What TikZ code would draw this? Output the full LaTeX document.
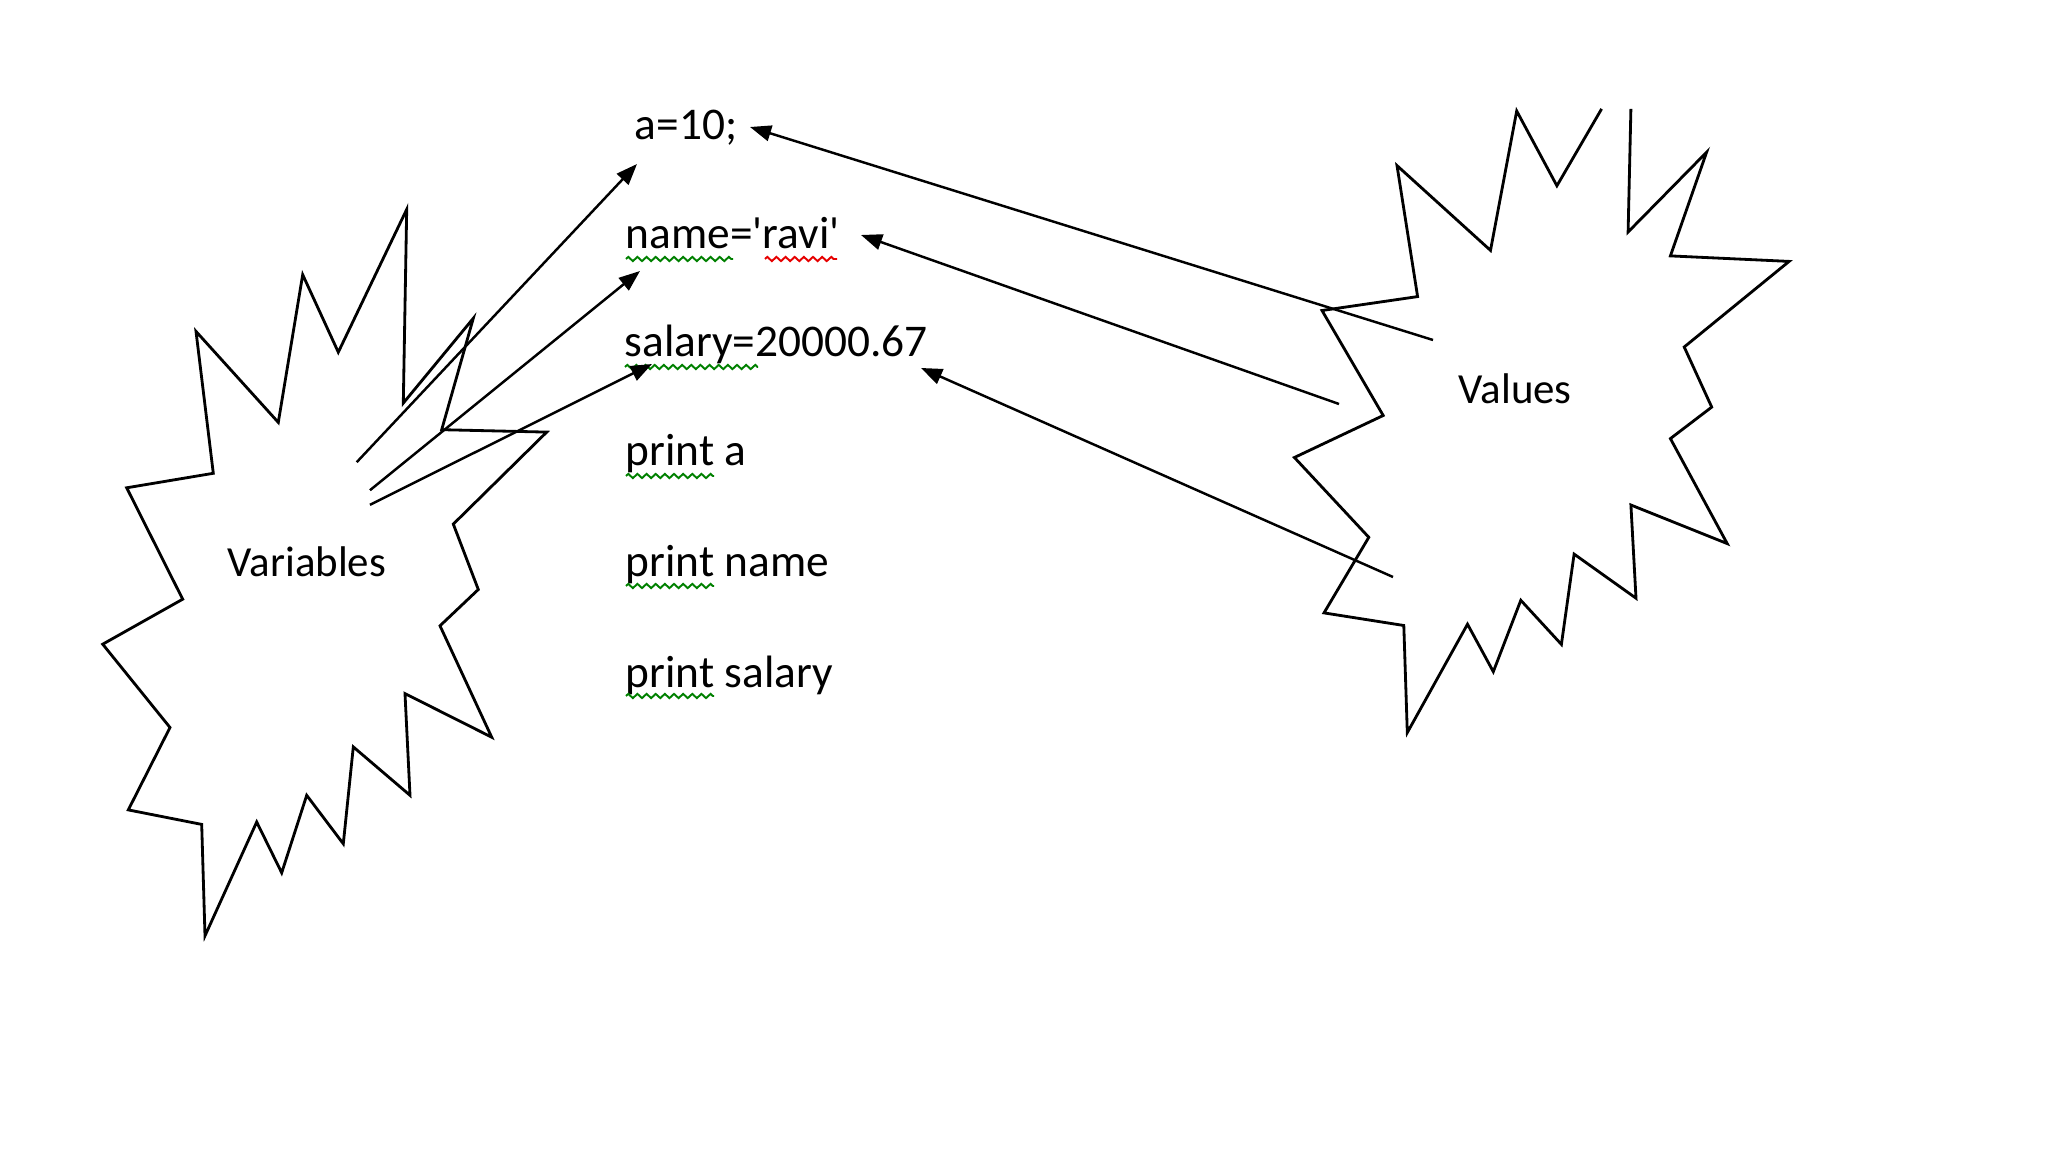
\documentclass[tikz,border=0pt]{standalone}
\usepackage{fontspec}
\newfontfamily\cfont{Carlito}
\usetikzlibrary{arrows.meta,decorations.pathmorphing}
\definecolor{spellgreen}{RGB}{0,128,0}
\definecolor{spellred}{RGB}{230,0,0}
\tikzset{
  burst/.style={draw=black, line width=0.8pt, line join=miter, miter limit=20},
  conn/.style={draw=black, line width=0.7pt, -{Triangle[length=6pt,width=4.5pt]}},
  code/.style={anchor=base west, inner sep=0pt, font=\cfont\fontsize{12.9}{15}\selectfont},
  lbl/.style={anchor=base west, inner sep=0pt, font=\cfont\fontsize{12.2}{14}\selectfont},
  squig/.style={line width=0.55pt, decorate, decoration={zigzag, segment length=2.6pt, amplitude=0.6pt}}
}
\begin{document}
\begin{tikzpicture}[x=0.01cm,y=-0.01cm]
\useasboundingbox (0,0) rectangle (2048,1152);

% left starburst
\draw[burst] (406.7,209.4) -- (403.3,403.1) -- (473.3,318.3) -- (441.7,429.7) -- (546.7,432.1)
  -- (453.3,524.1) -- (478.3,589.5) -- (440,625.8) -- (491.7,737.2) -- (405,693.6)
  -- (410,795.3) -- (353.3,746.9) -- (343.3,843.8) -- (306.7,795.3) -- (281.7,872.8)
  -- (256.7,822) -- (205,935.8) -- (201.7,824.4) -- (128.3,809.9) -- (170,727.5)
  -- (102.7,644.2) -- (182.7,599.2) -- (126.7,487.8) -- (213.3,473.3) -- (196,331.4)
  -- (278.3,422.4) -- (302.7,274.7) -- (338.3,352.2) -- cycle;

% right starburst (open at the top)
\draw[burst] (1630.9,108.9) -- (1628.1,232) -- (1706.6,152.2) -- (1670.4,255.9) -- (1789.1,261.4)
  -- (1684.2,347) -- (1711.7,407.1) -- (1670.4,438.6) -- (1727.2,543.6) -- (1630.9,505)
  -- (1636,598.2) -- (1574.1,554.1) -- (1561.4,644.4) -- (1520.8,600.3) -- (1493.3,671.7)
  -- (1467.5,624.2) -- (1407.3,732.6) -- (1403.8,625.5) -- (1324,612.9) -- (1368.8,537.3)
  -- (1294.4,457.5) -- (1383.2,415.5) -- (1322,310.5) -- (1417.6,296.6) -- (1397,165.6)
  -- (1490.5,250.4) -- (1516.7,111) -- (1556.9,185.8) -- (1601.6,108.9);

% labels
\node[lbl] (vars) at (227,577) {Variables};
\node[lbl] (vals) at (1458,404) {Values};

\node[code] (l1) at (634,140) {a=10;};
\node[code] (l2) at (625,249) {name=\textquotesingle ravi\textquotesingle};
\node[code] (l3) at (624,357) {salary=20000.67};
\node[code] (l4) at (625,466) {print a};
\node[code] (l5) at (625,577) {print name};
\node[code] (l6) at (625,687) {print salary};

% spell-check underlines
\draw[squig, spellgreen] (626,259) -- (733,259);
\draw[squig, spellred] (765,259) -- (837,259);
\draw[squig, spellgreen] (625,367) -- (758,367);
\draw[squig, spellgreen] (626,476) -- (714,476);
\draw[squig, spellgreen] (626,586) -- (714,586);
\draw[squig, spellgreen] (626,696) -- (714,696);

% connector end points
\coordinate (vs1) at (356.7,462.2);
\coordinate (vs2) at (370,490.2);
\coordinate (vs3) at (370,504.8);
\coordinate (ve1) at (637,164);
\coordinate (ve2) at (640,271);
\coordinate (ve3) at (652,364);

\coordinate (rs1) at (1433,340);
\coordinate (rs2) at (1339,404);
\coordinate (rs3) at (1393,577);
\coordinate (re1) at (750,127);
\coordinate (re2) at (861,235);
\coordinate (re3) at (921,368);

\draw[conn] (vs1) -- (ve1);
\draw[conn] (vs2) -- (ve2);
\draw[conn] (vs3) -- (ve3);
\draw[conn] (rs1) -- (re1);
\draw[conn] (rs2) -- (re2);
\draw[conn] (rs3) -- (re3);
\end{tikzpicture}
\end{document}
